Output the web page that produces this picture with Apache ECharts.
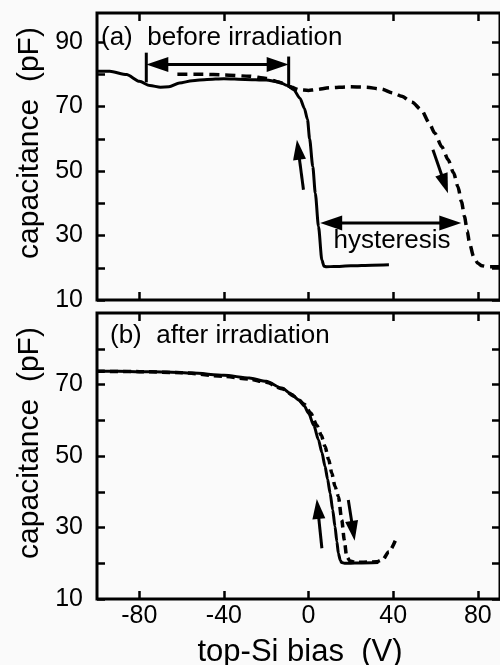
<!DOCTYPE html>
<html>
<head>
<meta charset="utf-8">
<script src="https://cdn.jsdelivr.net/npm/echarts@6/dist/echarts.min.js"></script>
<style>
html,body{margin:0;padding:0;background:#fafafa;}
#chart{width:500px;height:665px;}
</style>
</head>
<body>
<div id="chart"></div>
<script>
// ---- data ----
const xTicks = [-80, -40, 0, 40, 80];
const yTicksA = [10, 20, 30, 40, 50, 60, 70, 80, 90];
const yLabelsA = [10, 30, 50, 70, 90];
const yTicksB = [10, 20, 30, 40, 50, 60, 70, 80];
const yLabelsB = [10, 30, 50, 70];

// (a) before irradiation
const aSolidX = [-100, -94, -86, -80, -75, -70, -66, -61, -55, -48, -40, -30, -20, -14, -10, -7, -4, -2, -0.5, 0.5, 2, 3.2, 4.7, 6.3, 7.3, 8.5, 12, 20, 30, 38];
const aSolidY = [80.9, 80.9, 79.9, 77.8, 76.5, 76.0, 76.1, 77.3, 78.0, 78.4, 78.6, 78.4, 78.2, 77.6, 76.5, 75.2, 72.5, 69.5, 66, 60, 51.4, 43.1, 32.8, 22.4, 20.5, 20.3, 20.4, 20.6, 20.8, 20.9];
const aDashX = [-62, -50, -40, -28, -20, -12.6, -8, -4.7, 0, 3.2, 10, 18.8, 27, 34.5, 40, 44, 49, 53.3, 57, 59.6, 63, 66, 68.5, 70.6, 72.3, 73.7, 75, 76.1, 78, 80, 82, 84.7, 90.5];
const aDashY = [80, 80, 79.8, 79.4, 78.7, 77.3, 76, 75.2, 75.0, 75.2, 75.8, 76.1, 76.0, 75.4, 74.2, 73.2, 71.3, 69, 65, 61.8, 57.5, 53.5, 49.5, 45.2, 40.5, 35.9, 31.5, 27.6, 23.5, 21.4, 20.6, 20.3, 20.3];

// (b) after irradiation
const bSolidX = [-100, -90, -80, -67, -55, -40, -28, -20, -12.6, -8, -4.7, -2, 0, 2.5, 4.7, 6.3, 7.8, 9, 10.2, 11.4, 12.5, 13.4, 14.1, 15, 15.7, 17, 18.8, 25, 33];
const bSolidY = [73.7, 73.7, 73.6, 73.5, 73.2, 72.6, 71.8, 70.9, 69.0, 67.3, 65.7, 64, 62, 58.5, 54.5, 51, 47.1, 43.5, 39.6, 35, 30.3, 26, 22.8, 20.8, 20.2, 20.0, 20.0, 20.1, 20.2];
const bDashX = [-100, -80, -60, -40, -28, -20, -12.6, -6, -2, 1, 4, 6, 7.8, 9.5, 11, 12.5, 14.1, 15.7, 16.9, 18, 19.6, 22, 26, 32.1, 35, 38, 41];
const bDashY = [73.7, 73.6, 73.3, 72.3, 71.5, 70.6, 68.8, 66.5, 64.5, 62, 58.5, 55.8, 52.7, 49, 45.2, 41.5, 38.7, 32.1, 26.5, 21.9, 20.6, 20.3, 20.3, 20.4, 21, 23.2, 26.3];

// annotation arrows: [x1, y1, x2, y2, headAtStart, headAtEnd]
const arrowsA = [
  [-76.7, 83.0, -9.4, 83.0, 1, 1],
  [-76.7, 86.7, -76.7, 77.5, 0, 0],
  [-9.4, 85.5, -9.4, 76.2, 0, 0],
  [-9.4, 76.2, -8.0, 76.2, 0, 0],
  [5.5, 33.9, 72.2, 33.9, 1, 1],
  [-2.4, 44.2, -5.5, 59.7, 0, 1],
  [58.8, 56.6, 65.9, 43.1, 0, 1]
];
const arrowsB = [
  [6.3, 24.2, 3.9, 38.0, 0, 1],
  [18.8, 37.7, 21.8, 26.3, 0, 1]
];

function zip(xs, ys) { return xs.map((x, i) => [x, ys[i]]); }

const FONT = '"Liberation Sans", Arial, Helvetica, sans-serif';
const chart = echarts.init(document.getElementById('chart'), null, {renderer: 'canvas'});

function arrowRender(params, api) {
  const p1 = api.coord([api.value(0), api.value(1)]);
  const p2 = api.coord([api.value(2), api.value(3)]);
  const hs = api.value(4), he = api.value(5);
  const dx = p2[0] - p1[0], dy = p2[1] - p1[1];
  const len = Math.sqrt(dx * dx + dy * dy) || 1;
  const ux = dx / len, uy = dy / len;
  const nx = -uy, ny = ux;
  const horiz = Math.abs(dx) > Math.abs(dy);
  const L = horiz ? 22 : 20, W = horiz ? 15 : 13;
  const children = [];
  let s = p1.slice(), e = p2.slice();
  function head(tip, dirx, diry) {
    const bx = tip[0] - dirx * L, by = tip[1] - diry * L;
    children.push({
      type: 'polygon',
      shape: {points: [tip, [bx + nx * W / 2, by + ny * W / 2], [bx - nx * W / 2, by - ny * W / 2]]},
      style: {fill: '#000'}
    });
    return [bx + dirx * 2, by + diry * 2];
  }
  if (he) e = head(p2, ux, uy);
  if (hs) s = head(p1, -ux, -uy);
  children.push({
    type: 'line',
    shape: {x1: s[0], y1: s[1], x2: e[0], y2: e[1]},
    style: {stroke: '#000', lineWidth: 3}
  });
  return {type: 'group', children: children};
}

function xAx(grid, pos, labels) {
  return {
    type: 'value', gridIndex: grid, position: pos, min: -100, max: 90.5,
    axisLine: {show: false, onZero: false},
    axisTick: {show: true, inside: true, length: 8, customValues: xTicks, lineStyle: {color: '#000', width: 2.5}},
    axisLabel: {show: labels, customValues: xTicks, color: '#000', fontSize: 25, fontFamily: FONT, margin: 5},
    splitLine: {show: false}
  };
}
function yAx(grid, pos, labels, max, ticks, lbls) {
  return {
    type: 'value', gridIndex: grid, position: pos, min: 10, max: max,
    axisLine: {show: false, onZero: false},
    axisTick: {show: true, inside: true, length: 8, customValues: ticks, lineStyle: {color: '#000', width: 2.5}},
    axisLabel: {show: labels, customValues: lbls, color: '#000', fontSize: 25, fontFamily: FONT, margin: 14},
    splitLine: {show: false}
  };
}

const lineBase = {type: 'line', showSymbol: false, symbol: 'none', smooth: 0.25, smoothMonotone: 'x', animation: false};

chart.setOption({
  backgroundColor: '#fafafa',
  animation: false,
  grid: [
    {left: 97, top: 13, width: 405, height: 287, show: true, borderColor: '#000', borderWidth: 3, backgroundColor: 'transparent'},
    {left: 97, top: 313, width: 405, height: 286, show: true, borderColor: '#000', borderWidth: 3, backgroundColor: 'transparent'}
  ],
  xAxis: [xAx(0, 'bottom', false), xAx(0, 'top', false), xAx(1, 'bottom', true), xAx(1, 'top', false)],
  yAxis: [
    yAx(0, 'left', true, 99, yTicksA, yLabelsA), yAx(0, 'right', false, 99, yTicksA, yLabelsA),
    yAx(1, 'left', true, 90, yTicksB, yLabelsB), yAx(1, 'right', false, 90, yTicksB, yLabelsB)
  ],
  series: [
    Object.assign({}, lineBase, {xAxisIndex: 0, yAxisIndex: 0, data: zip(aSolidX, aSolidY), lineStyle: {color: '#000', width: 3}}),
    Object.assign({}, lineBase, {xAxisIndex: 0, yAxisIndex: 0, data: zip(aDashX, aDashY), lineStyle: {color: '#000', width: 3.5, type: [10, 6]}}),
    Object.assign({}, lineBase, {xAxisIndex: 2, yAxisIndex: 2, data: zip(bSolidX, bSolidY), lineStyle: {color: '#000', width: 3}}),
    Object.assign({}, lineBase, {xAxisIndex: 2, yAxisIndex: 2, data: zip(bDashX, bDashY), lineStyle: {color: '#000', width: 3.5, type: [8, 5]}}),
    {type: 'custom', xAxisIndex: 0, yAxisIndex: 0, data: arrowsA, renderItem: arrowRender, encode: {x: [0, 2], y: [1, 3]}, animation: false},
    {type: 'custom', xAxisIndex: 2, yAxisIndex: 2, data: arrowsB, renderItem: arrowRender, encode: {x: [0, 2], y: [1, 3]}, animation: false}
  ],
  graphic: [
    {type: 'text', x: 101, y: 38, style: {text: '(a)  before irradiation', font: '26px ' + FONT, fill: '#000', align: 'left', verticalAlign: 'middle'}},
    {type: 'text', x: 392, y: 241, style: {text: 'hysteresis', font: '26px ' + FONT, fill: '#000', align: 'center', verticalAlign: 'middle'}},
    {type: 'text', x: 110, y: 336, style: {text: '(b)  after irradiation', font: '26px ' + FONT, fill: '#000', align: 'left', verticalAlign: 'middle'}},
    {type: 'text', x: 30, y: 143, rotation: Math.PI / 2, style: {text: 'capacitance  (pF)', font: '30px ' + FONT, fill: '#000', align: 'center', verticalAlign: 'middle'}},
    {type: 'text', x: 30, y: 443, rotation: Math.PI / 2, style: {text: 'capacitance  (pF)', font: '30px ' + FONT, fill: '#000', align: 'center', verticalAlign: 'middle'}},
    {type: 'text', x: 300, y: 652, style: {text: 'top-Si bias  (V)', font: '31px ' + FONT, fill: '#000', align: 'center', verticalAlign: 'middle'}}
  ]
});
</script>
</body>
</html>
